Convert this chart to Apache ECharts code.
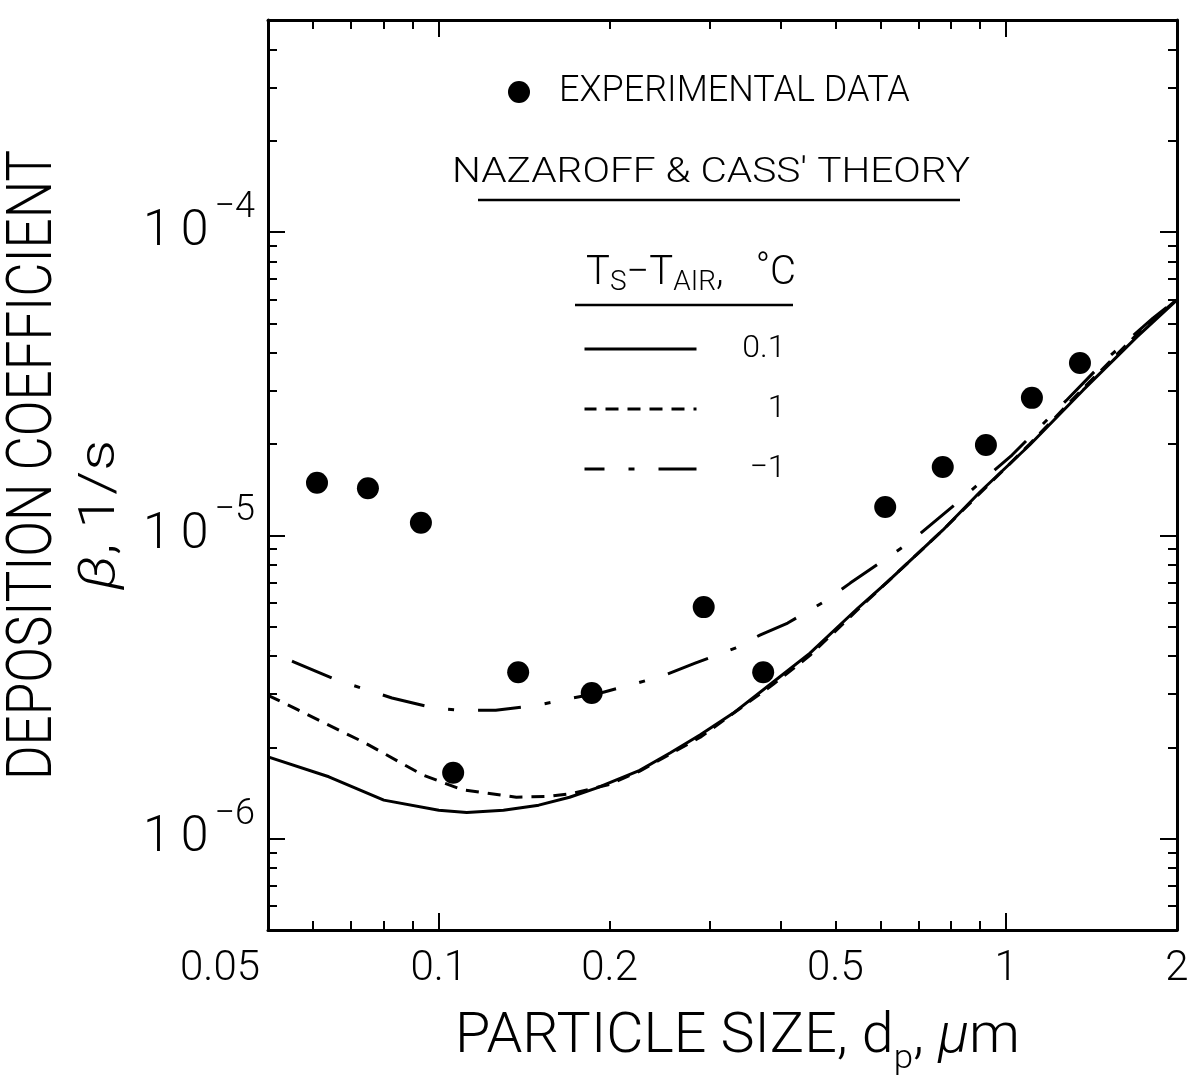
<!DOCTYPE html>
<html><head><meta charset="utf-8">
<script src="https://cdn.jsdelivr.net/npm/echarts@6/dist/echarts.min.js"></script>
<style>html,body{margin:0;padding:0;background:#fff}#c{width:1195px;height:1088px}</style>
</head><body><div id="c"></div>
<script>
// ---------- data ----------
const xTickLabels = [0.05, 0.1, 0.2, 0.5, 1, 2];
const xMajorTicks = [0.1, 1];
const xMinorTicks = [0.06, 0.07, 0.08, 0.09, 0.2, 0.3, 0.4, 0.5, 0.6, 0.7, 0.8, 0.9];
const yTickLabels = [1e-6, 1e-5, 1e-4];
const yMinorTicks = [6e-7, 7e-7, 8e-7, 9e-7, 2e-6, 3e-6, 4e-6, 5e-6, 6e-6, 7e-6, 8e-6, 9e-6,
                     2e-5, 3e-5, 4e-5, 5e-5, 6e-5, 7e-5, 8e-5, 9e-5, 2e-4, 3e-4, 4e-4];

const expX = [0.061, 0.075, 0.093, 0.106, 0.138, 0.186, 0.293, 0.373, 0.612, 0.773, 0.921, 1.11, 1.349];
const expY = [1.49e-5, 1.43e-5, 1.10e-5, 1.65e-6, 3.54e-6, 3.02e-6, 5.8e-6, 3.54e-6, 1.24e-5, 1.68e-5, 1.985e-5, 2.84e-5, 3.70e-5];

const solidX = [0.05, 0.064, 0.08, 0.1, 0.112, 0.13, 0.15, 0.17, 0.19, 0.226, 0.256, 0.289, 0.33, 0.388, 0.451, 0.548, 0.617, 0.773, 0.899, 1.10, 1.366, 1.70, 2.0];
const solidY = [1.86e-6, 1.60e-6, 1.34e-6, 1.24e-6, 1.22e-6, 1.24e-6, 1.29e-6, 1.37e-6, 1.47e-6, 1.68e-6, 1.92e-6, 2.20e-6, 2.59e-6, 3.28e-6, 4.09e-6, 5.76e-6, 7.01e-6, 1.04e-5, 1.39e-5, 1.985e-5, 3.01e-5, 4.51e-5, 5.97e-5];

const dashX = [0.05, 0.0558, 0.0625, 0.0741, 0.0938, 0.11, 0.137, 0.157, 0.172, 0.2, 0.226, 0.289, 0.388, 0.451, 0.548, 0.773, 1.10, 1.366, 1.70, 2.0];
const dashY = [2.97e-6, 2.69e-6, 2.42e-6, 2.07e-6, 1.62e-6, 1.45e-6, 1.37e-6, 1.38e-6, 1.41e-6, 1.51e-6, 1.67e-6, 2.16e-6, 3.22e-6, 4.02e-6, 5.7e-6, 1.04e-5, 2.0e-5, 3.05e-5, 4.6e-5, 6.0e-5];

const dashDotX = [0.05, 0.0556, 0.0662, 0.0827, 0.0985, 0.110, 0.126, 0.150, 0.169, 0.195, 0.224, 0.250, 0.283, 0.333, 0.368, 0.412, 0.483, 0.531, 0.677, 0.819, 1.024, 1.28, 1.511, 1.814, 2.0];
const dashDotY = [4.15e-6, 3.82e-6, 3.33e-6, 2.91e-6, 2.69e-6, 2.65e-6, 2.65e-6, 2.76e-6, 2.89e-6, 3.04e-6, 3.26e-6, 3.46e-6, 3.79e-6, 4.25e-6, 4.69e-6, 5.14e-6, 6.12e-6, 6.96e-6, 9.5e-6, 1.28e-5, 1.84e-5, 2.8e-5, 3.85e-5, 5.2e-5, 6.0e-5];

const seriesNames = ['EXPERIMENTAL DATA', '0.1', '1', '\u22121'];

// ---------- styling helpers ----------
const FONT = 'Roboto';
const FW = 300;
const ctx = document.createElement('canvas').getContext('2d');
function measure(str, size, style) {
  ctx.font = (style || 'normal') + ' ' + FW + ' ' + size + 'px ' + FONT;
  return ctx.measureText(str).width;
}
const zip = (a, b) => a.map((v, i) => [v, b[i]]);
const txt = (size, extra) => Object.assign({fontFamily: FONT, fontWeight: FW, fontSize: size, color: '#000'}, extra || {});

const chart = echarts.init(document.getElementById('c'), null, {renderer: 'canvas'});

const gridBox = {left: 268, right: 18, top: 20, bottom: 158, containLabel: false, outerBoundsMode: 'none', show: false};
const blk = {color: '#000', opacity: 1};

function xAxisDef(grid, pos, ticks, len, withLabel, withLine) {
  return {
    gridIndex: grid, type: 'log', logBase: 10, min: 0.05, max: 2, position: pos,
    axisLine: {show: withLine, onZero: false, lineStyle: {color: '#000', width: 3}},
    axisTick: {show: true, inside: true, length: len, customValues: ticks, lineStyle: {color: '#000', width: 2}},
    minorTick: {show: false}, splitLine: {show: false},
    axisLabel: withLabel ? {
      show: true, customValues: xTickLabels, margin: 18,
      formatter: v => (v === xTickLabels[0] ? '{l|' + v + '}' : '{n|' + v + '}'),
      rich: {n: txt(42), l: txt(42, {padding: [0, 96, 0, 0]})}
    } : {show: false}
  };
}
function yAxisDef(grid, pos, ticks, len, withLabel, withLine) {
  return {
    gridIndex: grid, type: 'log', logBase: 10, min: 5e-7, max: 5e-4, position: pos,
    axisLine: {show: withLine, onZero: false, lineStyle: {color: '#000', width: 3}},
    axisTick: {show: true, inside: true, length: len, customValues: ticks, lineStyle: {color: '#000', width: 2}},
    minorTick: {show: false}, splitLine: {show: false},
    axisLabel: withLabel ? {
      show: true, customValues: yTickLabels, margin: 13,
      formatter: v => '{b|1}{z|0}{s|\u2212' + Math.round(-Math.log10(v)) + '}',
      rich: {
        b: txt(50, {lineHeight: 84, verticalAlign: 'middle'}),
        z: txt(50, {lineHeight: 84, verticalAlign: 'middle', padding: [0, 0, 0, 10]}),
        s: txt(36, {lineHeight: 30, verticalAlign: 'top', padding: [0, 0, 0, 6]})
      }
    } : {show: false}
  };
}

// titles measured to fit the reference extents
const t1 = "NAZAROFF & CASS' THEORY";
const t1Scale = 518 / measure(t1, 35);
const xt = ['PARTICLE SIZE, d', 'p', ', ', '\u03bc', 'm'];
const xtW = measure(xt[0], 56) + measure(xt[1], 34) + measure(xt[2], 56) + measure(xt[3], 56, 'italic') + measure(xt[4], 56);
const xtScale = 565 / xtW;
const yt = 'DEPOSITION COEFFICIENT';
const ytScale = 630 / measure(yt, 63);
const yt2W = measure('\u03b2', 50, 'italic') + measure(', 1/s', 50);
const yt2Scale = 150 / yt2W;

const option = {
  animation: false,
  backgroundColor: '#fff',
  grid: [Object.assign({}, gridBox), Object.assign({}, gridBox)],
  xAxis: [
    xAxisDef(0, 'bottom', xMajorTicks, 17, true, true),
    xAxisDef(0, 'top', xMajorTicks, 17, false, true),
    xAxisDef(1, 'bottom', xMinorTicks, 9, false, false),
    xAxisDef(1, 'top', xMinorTicks, 9, false, false)
  ],
  yAxis: [
    yAxisDef(0, 'left', yTickLabels, 17, true, true),
    yAxisDef(0, 'right', yTickLabels, 17, false, true),
    yAxisDef(1, 'left', yMinorTicks, 9, false, false),
    yAxisDef(1, 'right', yMinorTicks, 9, false, false)
  ],
  legend: [
    {
      data: [seriesNames[0]], left: 503, top: 68, icon: 'circle', itemWidth: 70, itemHeight: 22,
      selectedMode: false, itemStyle: {color: '#000', opacity: 1}, textStyle: txt(36, {lineHeight: 38})
    },
    {
      data: seriesNames.slice(1), orient: 'vertical', left: 578, top: 328,
      itemWidth: 112, itemHeight: 20, itemGap: 28, selectedMode: false,
      itemStyle: {opacity: 0, borderWidth: 0},
      lineStyle: {width: 3, color: '#000', dashOffset: 23},
      formatter: n => '{r|' + n + '}',
      textStyle: {rich: {r: txt(32, {width: 84, align: 'right', lineHeight: 36})}}
    }
  ],
  graphic: [
    {type: 'text', x: 711, y: 173, scaleX: t1Scale, style: {
      text: t1, font: FW + ' 35px ' + FONT, fill: '#000', align: 'center', verticalAlign: 'middle'}},
    {type: 'line', shape: {x1: 478, y1: 200, x2: 960, y2: 200}, style: {stroke: '#000', lineWidth: 2.5}},
    {type: 'text', x: 586, y: 274, style: {
      text: '{n|T}{sub|S}{n|\u2212T}{sub|AIR}{n|,}{sp| }{sup|\u00b0}{n|C}',
      align: 'left', verticalAlign: 'middle', fill: '#000',
      rich: {
        n: {fontFamily: FONT, fontWeight: FW, fontSize: 40, lineHeight: 46, verticalAlign: 'middle', fill: '#000'},
        sub: {fontFamily: FONT, fontWeight: FW, fontSize: 28, lineHeight: 26, verticalAlign: 'bottom', fill: '#000'},
        sp: {fontFamily: FONT, fontSize: 20, width: 32, fill: '#000'},
        sup: {fontFamily: FONT, fontWeight: FW, fontSize: 38, lineHeight: 20, verticalAlign: 'top', fill: '#000'}
      }}},
    {type: 'line', shape: {x1: 575, y1: 305, x2: 793, y2: 305}, style: {stroke: '#000', lineWidth: 2.5}},
    {type: 'text', x: 455, y: 1038, scaleX: xtScale, style: {
      text: '{n|' + xt[0] + '}{sub|' + xt[1] + '}{n|' + xt[2] + '}{i|' + xt[3] + '}{n|' + xt[4] + '}',
      align: 'left', verticalAlign: 'middle', fill: '#000',
      rich: {
        n: {fontFamily: FONT, fontWeight: FW, fontSize: 56, lineHeight: 76, verticalAlign: 'middle', fill: '#000'},
        i: {fontFamily: FONT, fontWeight: FW, fontStyle: 'italic', fontSize: 56, lineHeight: 76, verticalAlign: 'middle', fill: '#000'},
        sub: {fontFamily: FONT, fontWeight: FW, fontSize: 34, lineHeight: 24, verticalAlign: 'bottom', fill: '#000'}
      }}},
    {type: 'text', x: 35, y: 465, rotation: Math.PI / 2, scaleX: ytScale, style: {
      text: yt, font: FW + ' 63px ' + FONT, fill: '#000', align: 'center', verticalAlign: 'middle'}},
    {type: 'text', x: 101, y: 515, rotation: Math.PI / 2, scaleX: yt2Scale, style: {
      text: '{i|\u03b2}{n|, 1/s}', align: 'center', verticalAlign: 'middle', fill: '#000',
      rich: {
        i: {fontFamily: FONT, fontWeight: FW, fontStyle: 'italic', fontSize: 50, fill: '#000'},
        n: {fontFamily: FONT, fontWeight: FW, fontSize: 50, fill: '#000'}
      }}}
  ],
  series: [
    {name: seriesNames[0], type: 'scatter', xAxisIndex: 0, yAxisIndex: 0, data: zip(expX, expY),
     symbol: 'circle', symbolSize: 22, itemStyle: blk, z: 5},
    {name: seriesNames[1], type: 'line', xAxisIndex: 0, yAxisIndex: 0, data: zip(solidX, solidY),
     symbol: 'none', clip: true, itemStyle: blk, lineStyle: {color: '#000', width: 3, type: 'solid'}},
    {name: seriesNames[2], type: 'line', xAxisIndex: 0, yAxisIndex: 0, data: zip(dashX, dashY),
     symbol: 'none', clip: true, itemStyle: blk, lineStyle: {color: '#000', width: 3, type: [13, 9]}},
    {name: seriesNames[3], type: 'line', xAxisIndex: 0, yAxisIndex: 0, data: zip(dashDotX, dashDotY),
     symbol: 'none', clip: true, itemStyle: blk, lineStyle: {color: '#000', width: 3, type: [43, 24, 6, 24], dashOffset: 71}}
  ]
};
chart.setOption(option);
</script>
</body></html>
